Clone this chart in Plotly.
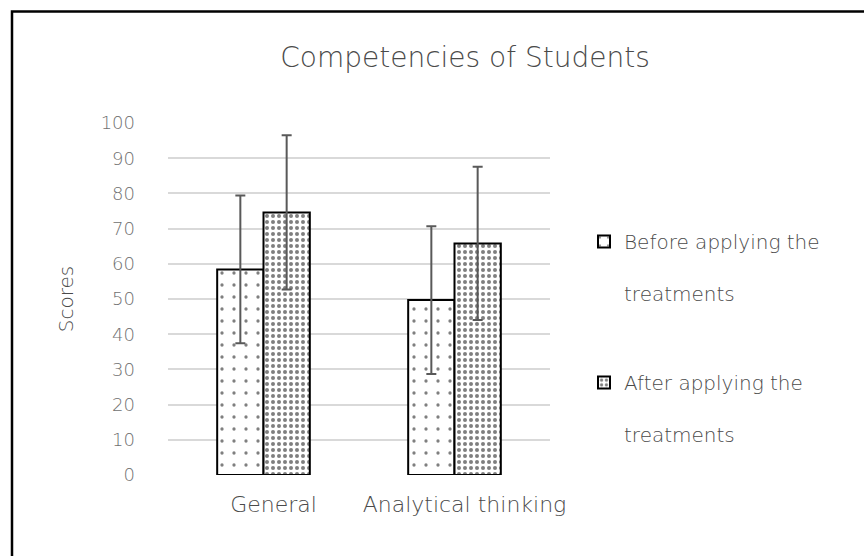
import plotly.graph_objects as go

categories = ["General", "Analytical thinking"]
before_values = [58.4, 49.7]
before_errors = [21.0, 21.0]
after_values = [74.6, 65.8]
after_errors = [21.9, 21.8]
y_ticks = [0, 10, 20, 30, 40, 50, 60, 70, 80, 90, 100]
series_names = ["Before applying the<br><br>treatments", "After applying the<br><br>treatments"]

FONT = "DejaVu Sans"
GRAY = "#4a4a4a"
TICKGRAY = "#707070"
WEIGHT = 300

fig = go.Figure()
fig.add_trace(go.Bar(
    x=categories, y=before_values, name=series_names[0], legendgroup="before",
    error_y=dict(type="data", array=before_errors, color="#595959", thickness=2, width=5),
    marker=dict(color="white", line=dict(color="black", width=2),
                pattern=dict(shape=".", fgcolor="black", bgcolor="white", size=12, solidity=0.06)),
))
fig.add_trace(go.Bar(
    x=categories, y=after_values, name=series_names[1], legendgroup="after",
    error_y=dict(type="data", array=after_errors, color="#595959", thickness=2, width=5),
    marker=dict(color="white", line=dict(color="black", width=2),
                pattern=dict(shape=".", fgcolor="black", bgcolor="white", size=6, solidity=0.35)),
))

W, H = 864, 556
L, R, T, B = 168, 550, 123, 475
pw, ph = R - L, B - T

def px2x(px):
    return (px - L) / pw

def py2y(py):
    return (B - py) / ph

def f(size, color=GRAY):
    return dict(family=FONT, size=size, color=color, weight=WEIGHT)

fig.update_layout(
    width=W, height=H,
    margin=dict(l=L, r=W - R, t=T, b=H - B, autoexpand=False),
    paper_bgcolor="white", plot_bgcolor="white",
    font=f(18),
    title=dict(text="Competencies of Students", x=465 / W, xanchor="center",
               y=1 - 57 / H, yanchor="middle", xref="container", yref="container",
               font=f(28)),
    barmode="group", bargap=0.515, bargroupgap=0,
    showlegend=True,
    legend=dict(x=px2x(584), y=py2y(222), xanchor="left", yanchor="top",
                font=f(20), valign="top",
                bgcolor="rgba(0,0,0,0)", itemwidth=30, traceorder="grouped",
                tracegroupgap=60),
    xaxis=dict(range=[-0.5, 1.5], showgrid=False, showline=False, ticks="",
               ticklabelstandoff=14, ticklabelshift=10, tickfont=f(22), automargin=False),
    yaxis=dict(range=[0, 100], tickvals=y_ticks, showgrid=True, gridcolor="#d9d9d9",
               gridwidth=1.5, zeroline=False, showline=False, ticks="",
               ticklabelstandoff=32, tickfont=f(18, TICKGRAY),
               title=dict(text="Scores", standoff=21, font=f(20)),
               automargin=False),
    shapes=[dict(type="rect", xref="paper", yref="paper",
                 x0=px2x(12), x1=px2x(880), y0=py2y(575), y1=py2y(11.5),
                 line=dict(color="black", width=2.5), fillcolor="rgba(0,0,0,0)", layer="below")],
)

fig.write_html("out.html", config={"displayModeBar": False},
               post_script="document.body.style.margin='0px';")
